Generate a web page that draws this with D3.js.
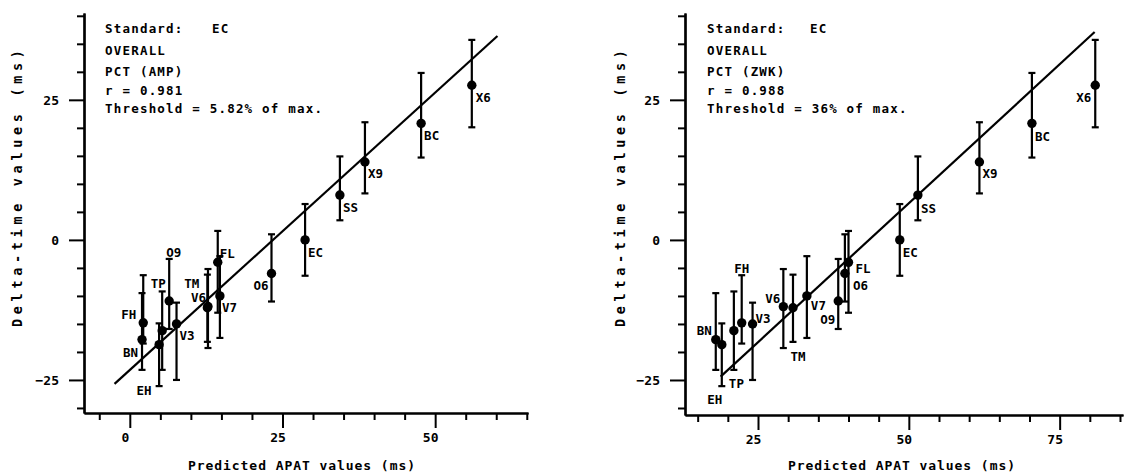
<!DOCTYPE html>
<html><head><meta charset="utf-8">
<script src="https://cdn.jsdelivr.net/npm/d3@7"></script>
<style>
html,body{margin:0;padding:0;background:#fff;}
svg{display:block;}
text{font-family:"DejaVu Sans Mono",monospace;font-weight:bold;fill:#000;}
</style></head>
<body>
<svg id="chart" width="1125" height="474"></svg>
<script>
// ---------------- data ----------------
const names      = ["BN","EH","TP","FH","V3","O9","V6","TM","V7","FL","O6","EC","SS","X9","BC","X6"];
const delta      = [-17.8,-18.7,-16.2,-14.8,-15.0,-10.9,-11.9,-12.1,-10.0,-4.0,-6.0,0.0,8.0,13.9,20.8,27.6];
const deltaLow   = [-23.2,-26.1,-23.2,-18.5,-25.0,-15.9,-19.3,-18.2,-17.5,-13.0,-11.0,-6.4,3.5,8.3,14.7,20.1];
const deltaHigh  = [-9.5,-14.9,-9.2,-6.3,-11.2,-3.4,-5.2,-6.2,-2.9,1.6,1.0,6.4,14.9,21.0,29.8,35.7];
const predAMP    = [2.0,4.8,5.3,2.2,7.65,6.45,12.8,12.7,14.75,14.4,23.2,28.7,34.4,38.5,47.7,56.0];
const predZWK    = [18.0,19.0,21.0,22.3,24.1,38.3,29.2,30.8,33.1,40.0,39.4,48.5,51.5,61.7,70.4,80.9];
const fitAMP     = [[-2.5,-25.7],[60.2,36.4]];
const fitZWK     = [[18.8,-24.4],[80.8,37.1]];
const yMajorTicks = [-25,0,25];
const yMinorTicks = [-30,-20,-15,-10,-5,5,10,15,20,30,35,40];
const xMajorAMP  = [0,25,50];
const xMinorAMP  = [-5,5,10,15,20,30,35,40,45,55,60,65];
const xMajorZWK  = [25,50,75];
const xMinorZWK  = [15,20,30,35,40,45,55,60,65,70,80,85];
const notesAMP   = ["Standard:|EC","OVERALL","PCT (AMP)","r = 0.981","Threshold = 5.82% of max."];
const notesZWK   = ["Standard:|EC","OVERALL","PCT (ZWK)","r = 0.988","Threshold = 36% of max."];
const xTitle = "Predicted APAT values (ms)";
const yTitle = "Delta-time values (ms)";

// ---------------- layout (not data) ----------------
const panels = [
  { pred: predAMP, fit: fitAMP, xMajor: xMajorAMP, xMinor: xMinorAMP, notes: notesAMP,
    xDom: [-7.5, 65.2], xRange: [84, 528], yDom: [-30.9, 40.5], yRange: [413, 13],
    noteX: 105, ecDx: 107, yTitleX: 17, xTitleCx: 301.5,
    lab: { X6:[4,12,"start"], BC:[3,12,"start"], X9:[3,11,"start"], SS:[3,12,"start"], EC:[3,13,"start"],
           O6:[-3,12,"end"], FL:[2,-9,"start"], V7:[2,12,"start"], V6:[-2,-9,"end"], TM:[-8,-24,"end"],
           O9:[4.5,-48,"middle"], TP:[-4,-47,"middle"], V3:[3,12,"start"], FH:[-7,-8,"end"],
           BN:[-4,13,"end"], EH:[-7.5,46,"end"] } },
  { pred: predZWK, fit: fitZWK, xMajor: xMajorZWK, xMinor: xMinorZWK, notes: notesZWK,
    xDom: [12.9, 85.5], xRange: [685, 1123], yDom: [-31.25, 40.5], yRange: [415, 13],
    noteX: 707, ecDx: 103, yTitleX: 620, xTitleCx: 901.5,
    lab: { X6:[-4,12,"end"], BC:[3,13,"start"], X9:[3,11,"start"], SS:[3,13,"start"], EC:[3,13,"start"],
           FL:[7,6,"start"], O6:[8,12,"start"], O9:[-3,19,"end"], V7:[4,10,"start"], TM:[-2.6,49,"start"],
           V6:[-3,-8,"end"], V3:[3,-5,"start"], FH:[0,-54,"middle"], TP:[-5,53,"start"],
           BN:[-4,-9,"end"], EH:[-7,55,"middle"] } }
];

const svg = d3.select("#chart");

panels.forEach(p => {
  const x = d3.scaleLinear().domain(p.xDom).range(p.xRange);
  const y = d3.scaleLinear().domain(p.yDom).range(p.yRange);
  const g = svg.append("g");
  const x0 = p.xRange[0], yb = p.yRange[0];

  // y axis
  const yMin = g.append("g").attr("transform", `translate(${x0},0)`)
    .call(d3.axisLeft(y).tickValues(yMinorTicks).tickSize(7).tickSizeOuter(0).tickFormat(""));
  const yMaj = g.append("g").attr("transform", `translate(${x0},0)`)
    .call(d3.axisLeft(y).tickValues(yMajorTicks).tickSize(15).tickSizeOuter(0).tickPadding(10).tickFormat(d3.format("d")));
  // x axis
  const xMin = g.append("g").attr("transform", `translate(0,${yb})`)
    .call(d3.axisBottom(x).tickValues(p.xMinor).tickSize(7).tickSizeOuter(0).tickFormat(""));
  const xMaj = g.append("g").attr("transform", `translate(0,${yb})`)
    .call(d3.axisBottom(x).tickValues(p.xMajor).tickSize(15).tickSizeOuter(0).tickPadding(5).tickFormat(d3.format("d")));
  [yMin,yMaj,xMin,xMaj].forEach(a => {
    a.selectAll("path.domain").attr("stroke","#000").attr("stroke-width",2.2);
    a.selectAll(".tick line").attr("stroke","#000").attr("stroke-width",2);
    a.selectAll(".tick text").style("font-family","DejaVu Sans Mono").style("font-weight","bold")
      .style("font-size","13px").attr("fill","#000");
  });
  xMaj.selectAll(".tick text").attr("dx", -5);

  // regression line
  g.append("line")
    .attr("x1", x(p.fit[0][0])).attr("y1", y(p.fit[0][1]))
    .attr("x2", x(p.fit[1][0])).attr("y2", y(p.fit[1][1]))
    .attr("stroke","#000").attr("stroke-width",2.2);

  // error bars & points
  const pts = names.map((n,i) => ({n, x: p.pred[i], y: delta[i], lo: deltaLow[i], hi: deltaHigh[i]}));
  const eb = g.append("g").selectAll("g").data(pts).join("g");
  eb.append("line").attr("x1", d=>x(d.x)).attr("x2", d=>x(d.x))
    .attr("y1", d=>y(d.lo)).attr("y2", d=>y(d.hi)).attr("stroke","#000").attr("stroke-width",2.2);
  eb.append("line").attr("x1", d=>x(d.x)-3.5).attr("x2", d=>x(d.x)+3.5)
    .attr("y1", d=>y(d.lo)).attr("y2", d=>y(d.lo)).attr("stroke","#000").attr("stroke-width",2.2);
  eb.append("line").attr("x1", d=>x(d.x)-3.5).attr("x2", d=>x(d.x)+3.5)
    .attr("y1", d=>y(d.hi)).attr("y2", d=>y(d.hi)).attr("stroke","#000").attr("stroke-width",2.2);
  g.append("g").selectAll("circle").data(pts).join("circle")
    .attr("cx", d=>x(d.x)).attr("cy", d=>y(d.y)).attr("r", 4.7).attr("fill","#000");

  // point labels
  g.append("g").selectAll("text").data(pts).join("text")
    .attr("x", d=>x(d.x) + p.lab[d.n][0]).attr("y", d=>y(d.y) + p.lab[d.n][1])
    .attr("text-anchor", d=>p.lab[d.n][2]).attr("dominant-baseline","central")
    .style("font-size","12.5px").text(d=>d.n);

  // notes
  const noteY = [28, 50, 71, 90, 108];
  p.notes.forEach((s,i) => {
    const t = g.append("text").attr("x", p.noteX).attr("y", noteY[i]).attr("dominant-baseline","central")
      .style("font-size","12.5px").style("letter-spacing","1.2px").attr("xml:space","preserve");
    if (s.includes("|")) {
      const [a,b] = s.split("|");
      t.append("tspan").text(a);
      t.append("tspan").attr("x", p.noteX + p.ecDx).text(b);
    } else t.text(s);
  });

  // axis titles
  g.append("text").attr("x", p.xTitleCx).attr("y", 465).attr("text-anchor","middle")
    .attr("dominant-baseline","central").style("font-size","13px")
    .attr("textLength", 227).attr("lengthAdjust","spacing").text(xTitle);
  g.append("text").attr("transform", `translate(${p.yTitleX},188.5) rotate(-90)`)
    .attr("text-anchor","middle").attr("dominant-baseline","central").style("font-size","13.5px")
    .attr("textLength", 277).attr("lengthAdjust","spacing").text(yTitle);
});
</script>
</body></html>
